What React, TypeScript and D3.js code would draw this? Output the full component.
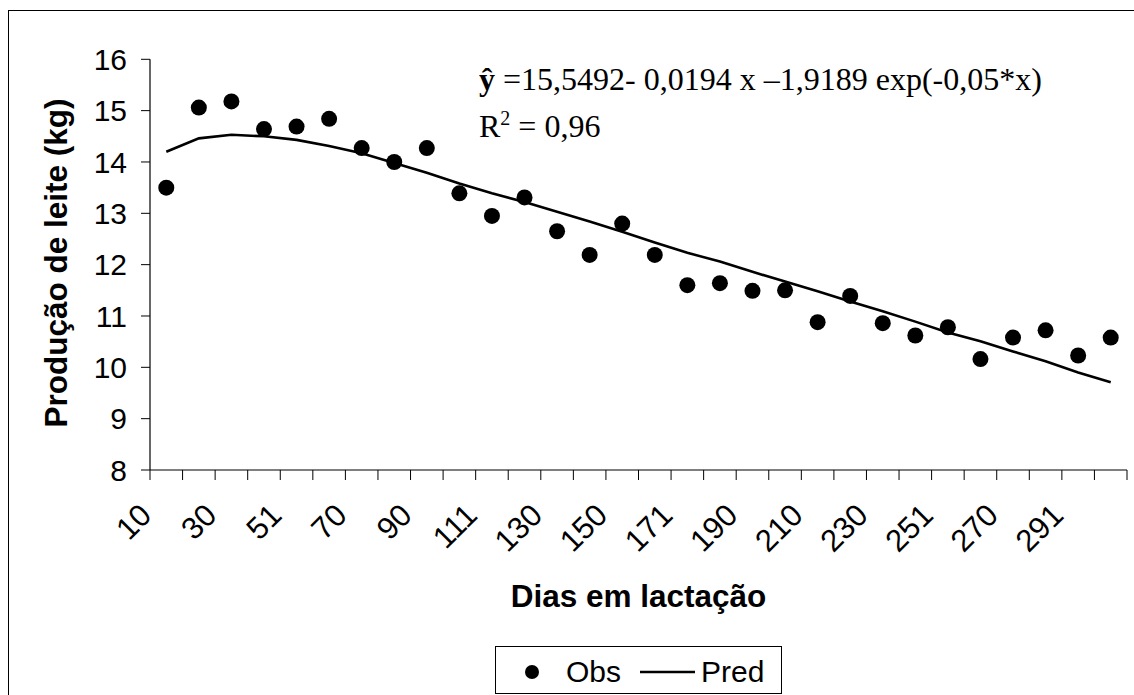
import React from "react";
import * as d3 from "d3";

const days = ["10","20","30","41","51","60","70","80","90","101","111","120","130","140","150","161","171","180","190","200","210","220","230","240","251","260","270","280","291","300"];
const labeledDays = ["10","30","51","70","90","111","130","150","171","190","210","230","251","270","291"];
const obs = [13.50,15.06,15.18,14.64,14.69,14.84,14.27,14.00,14.27,13.39,12.95,13.31,12.65,12.19,12.80,12.19,11.60,11.64,11.49,11.50,10.88,11.39,10.86,10.62,10.78,10.16,10.58,10.72,10.23,10.58];
const pred = [14.20,14.46,14.53,14.50,14.43,14.31,14.17,13.98,13.79,13.58,13.39,13.22,13.03,12.84,12.64,12.43,12.23,12.06,11.86,11.67,11.48,11.28,11.09,10.89,10.68,10.51,10.31,10.12,9.90,9.71];
const yTicks = [8,9,10,11,12,13,14,15,16];

const SANS = "'Liberation Sans', Arial, sans-serif";
const SERIF = "'Liberation Serif', 'Times New Roman', serif";

export default function App() {
  const W = 1134, H = 695;
  const x = d3.scaleBand<string>().domain(days).range([150, 1127]).padding(0);
  const y = d3.scaleLinear().domain([8, 16]).range([470, 59.3]);
  const cx = (d: string) => (x(d) as number) + x.bandwidth() / 2;
  const line = d3.line<number>().x((_, i) => cx(days[i])).y((v) => y(v));
  const boundaries = days.map((d) => x(d) as number).concat([1127]);

  return (
    <svg width={W} height={H} style={{ position: "absolute", left: 0, top: 0, display: "block" }}>
      <rect x={0} y={0} width={W} height={H} fill="#fff" />
      <rect x={8.5} y={10.5} width={W + 20} height={H + 20} fill="none" stroke="#000" strokeWidth={1} />

      {/* y axis */}
      <line x1={150} x2={150} y1={y(16)} y2={470} stroke="#000" strokeWidth={1.2} />
      {yTicks.map((t) => (
        <g key={t}>
          <line x1={141} x2={150} y1={y(t)} y2={y(t)} stroke="#000" strokeWidth={1} />
          <text x={127} y={y(t)} dy="0.36em" textAnchor="end" fontFamily={SANS} fontSize={30} fill="#000">{t}</text>
        </g>
      ))}

      {/* x axis */}
      <line x1={150} x2={1127} y1={470} y2={470} stroke="#000" strokeWidth={1.2} />
      {boundaries.map((b, i) => (
        <line key={i} x1={b} x2={b} y1={470} y2={480} stroke="#000" strokeWidth={1} />
      ))}
      {labeledDays.map((d) => (
        <text key={d} transform={`translate(${cx(d) - 13},${517}) rotate(-45)`} textAnchor="end" fontFamily={SANS} fontSize={31} fill="#000">{d}</text>
      ))}

      {/* titles */}
      <text transform={`translate(67,263) rotate(-90)`} textAnchor="middle" fontFamily={SANS} fontWeight="bold" fontSize={31.5} fill="#000">Produção de leite (kg)</text>
      <text x={638.5} y={607} textAnchor="middle" fontFamily={SANS} fontWeight="bold" fontSize={31.5} fill="#000">Dias em lactação</text>

      {/* series */}
      <path d={line(pred) || ""} fill="none" stroke="#000" strokeWidth={2.6} />
      {obs.map((v, i) => (
        <circle key={i} cx={cx(days[i])} cy={y(v)} r={8} fill="#000" />
      ))}

      {/* equation */}
      <text x={479} y={90} fontFamily={SERIF} fontSize={32} fill="#000">
        <tspan fontWeight="bold">ŷ</tspan>
        <tspan>{" =15,5492- 0,0194 x –1,9189 exp(-0,05*x)"}</tspan>
      </text>
      <text x={479} y={137} fontFamily={SERIF} fontSize={32} fill="#000">
        R<tspan fontSize={20} dy={-12}>2</tspan><tspan dy={12}>{" = 0,96"}</tspan>
      </text>

      {/* legend */}
      <rect x={495.5} y={646.5} width={286} height={47} fill="#fff" stroke="#000" strokeWidth={1} />
      <circle cx={532} cy={672} r={7} fill="#000" />
      <text x={566} y={682} fontFamily={SANS} fontSize={30} fill="#000">Obs</text>
      <line x1={640} x2={695} y1={672} y2={672} stroke="#000" strokeWidth={2.6} />
      <text x={701} y={682} fontFamily={SANS} fontSize={30} fill="#000">Pred</text>
    </svg>
  );
}
